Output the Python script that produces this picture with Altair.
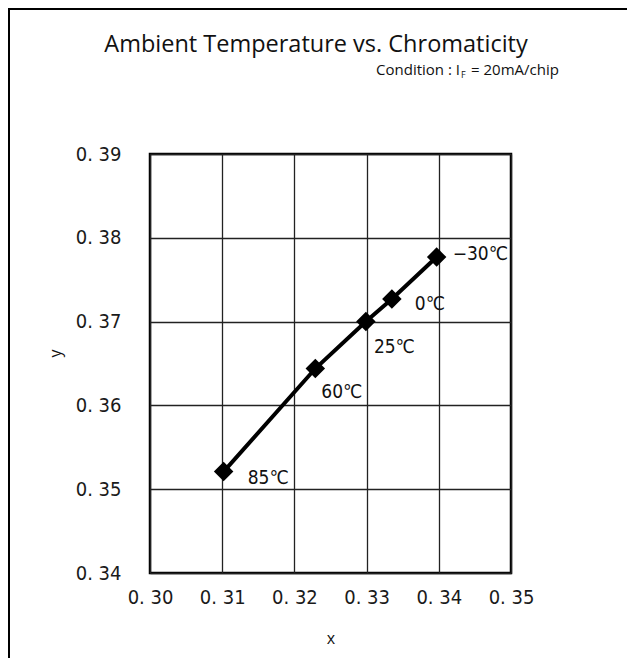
import altair as alt
import pandas as pd

# ---- data ----
temps = ["85℃", "60℃", "25℃", "0℃", "−30℃"]
cx = [0.3102, 0.3229, 0.3299, 0.3335, 0.3397]
cy = [0.3521, 0.3644, 0.3700, 0.3727, 0.3777]
x_ticks = [0.30, 0.31, 0.32, 0.33, 0.34, 0.35]
y_ticks = [0.34, 0.35, 0.36, 0.37, 0.38, 0.39]

title_text = "Ambient Temperature vs. Chromaticity"
cond_main = "Condition : I"
cond_sub = "F"
cond_rest = "= 20mA/chip"
x_title = "x"
y_title = "y"

df = pd.DataFrame({"temp": temps, "x": cx, "y": cy, "order": list(range(len(temps)))})

W, H = 361, 419
TICK_FONT = "DejaVu Sans Condensed"
TITLE_FONT = "Open Sans"

label_expr = "replace(format(datum.value, '.2f'), '.', '. ')"

common_axis = dict(
    labelExpr=label_expr, grid=True, gridColor="#222222", gridWidth=1.3, gridOpacity=1,
    domain=False, ticks=False, labelFlush=False, labelOverlap=False,
    labelFont=TICK_FONT, labelFontSize=20, labelColor="#1a1a1a",
    titleFont=TITLE_FONT, titleFontSize=16, titleFontWeight="normal",
    titleColor="#111111", titleBaseline="middle",
)

xenc = alt.X(
    "x:Q",
    scale=alt.Scale(domain=[0.30, 0.35], nice=False, zero=False),
    axis=alt.Axis(values=x_ticks, title=x_title, labelPadding=14,
                  titleX=W / 2, titleY=65, **common_axis),
)
yenc = alt.Y(
    "y:Q",
    scale=alt.Scale(domain=[0.34, 0.39], nice=False, zero=False),
    axis=alt.Axis(values=y_ticks, title=y_title, labelPadding=29,
                  titleX=-95, titleY=199, titleAngle=-90, **common_axis),
)

base = alt.Chart(df).encode(x=xenc, y=yenc)

line = base.mark_line(color="black", strokeWidth=4).encode(order="order:Q")
points = base.mark_point(shape="diamond", filled=True, size=380, color="black", opacity=1)

offsets = {"−30℃": (16, -3), "0℃": (23, 5), "25℃": (8, 25), "60℃": (6, 23), "85℃": (24, 6)}
label_layers = []
for t in temps:
    dx, dy = offsets[t]
    label_layers.append(
        base.transform_filter(alt.datum.temp == t)
        .mark_text(align="left", baseline="middle", dx=dx, dy=dy,
                   font=TICK_FONT, fontSize=19, color="#111111")
        .encode(text="temp:N")
    )

def txt(s, x, y, size, align="left", font=TITLE_FONT):
    return alt.Chart(pd.DataFrame({"t": [s]})).mark_text(
        align=align, baseline="alphabetic", font=font, fontSize=size, color="#111111"
    ).encode(x=alt.value(x), y=alt.value(y), text="t:N")

title = txt(title_text, 166, -102, 23.5, align="center")
c1 = txt(cond_main, 310, -79, 15, align="right")
c2 = txt(cond_sub, 311, -76, 9, align="left")
c3 = txt(cond_rest, 321, -79, 15, align="left")

frame_df = pd.DataFrame({"a": [0]})
frame_left = alt.Chart(frame_df).mark_rule(color="black", strokeWidth=2).encode(
    x=alt.value(-141), y=alt.value(-145), y2=alt.value(520))
frame_top = alt.Chart(frame_df).mark_rule(color="black", strokeWidth=2).encode(
    x=alt.value(-142), x2=alt.value(500), y=alt.value(-145))

chart = alt.layer(
    line, points, *label_layers, title, c1, c2, c3, frame_left, frame_top
).properties(
    width=W, height=H,
    autosize=alt.AutoSizeParams(type="none"),
    padding={"left": 142, "top": 146, "right": 116, "bottom": 85},
    background="white",
).configure_view(stroke="black", strokeWidth=2.5)

chart.save("out.html", embed_options={"renderer": "svg", "actions": False})
